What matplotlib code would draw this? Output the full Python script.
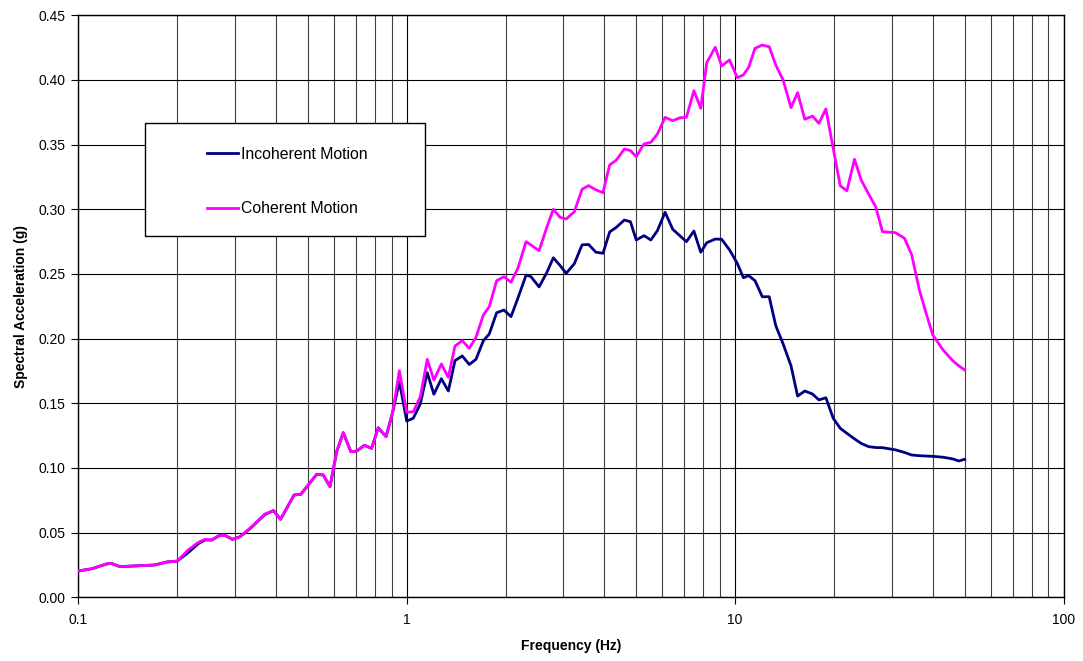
import matplotlib
matplotlib.use("Agg")
import matplotlib.pyplot as plt
from matplotlib.patches import Rectangle
from matplotlib.ticker import FixedLocator, NullFormatter, FuncFormatter

plt.rcParams['font.family'] = ['Liberation Sans', 'DejaVu Sans']

freq = [0.1, 0.11, 0.122, 0.126, 0.134, 0.15, 0.171, 0.186, 0.2, 0.216, 0.232, 0.243,
        0.255, 0.267, 0.278, 0.295, 0.311, 0.333, 0.37, 0.393, 0.413, 0.454, 0.476,
        0.532, 0.557, 0.584, 0.612, 0.641, 0.676, 0.705, 0.743, 0.782, 0.819, 0.865,
        0.905, 0.95, 1.0, 1.047, 1.1, 1.155, 1.21, 1.275, 1.339, 1.403, 1.476, 1.551,
        1.625, 1.712, 1.784, 1.879, 1.978, 2.078, 2.18, 2.31, 2.39, 2.53, 2.67, 2.795,
        2.93, 3.06, 3.24, 3.42, 3.58, 3.77, 3.96, 4.15, 4.35, 4.6, 4.8, 5.0, 5.28,
        5.54, 5.8, 6.12, 6.46, 6.8, 7.11, 7.49, 7.86, 8.2, 8.7, 9.1, 9.62, 10.15,
        10.6, 11.0, 11.5, 12.1, 12.7, 13.3, 14.0, 14.8, 15.5, 16.3, 17.2, 18.0, 18.9,
        19.9, 20.9, 21.9, 23.1, 24.2, 25.5, 26.8, 28.1, 30.8, 32.8, 34.5, 36.4, 38.3,
        40.0, 43.0, 46.0, 48.0, 50.0]

coherent = [0.0203, 0.0221, 0.0258, 0.0262, 0.0237, 0.0243, 0.0250, 0.0273, 0.0280,
            0.0366, 0.0425, 0.0448, 0.0443, 0.0474, 0.0482, 0.0448, 0.0469, 0.0533,
            0.0644, 0.0670, 0.0603, 0.0791, 0.0796, 0.0951, 0.0946, 0.0855, 0.1126,
            0.1273, 0.1126, 0.1131, 0.1175, 0.1152, 0.1311, 0.1242, 0.1423, 0.1752,
            0.1430, 0.1435, 0.1550, 0.1840, 0.1680, 0.1804, 0.1700, 0.1943, 0.1984,
            0.1925, 0.2010, 0.2183, 0.2247, 0.2448, 0.2479, 0.2436, 0.2544, 0.2750,
            0.2724, 0.2680, 0.2860, 0.3000, 0.2938, 0.2925, 0.2982, 0.3155, 0.3183,
            0.3150, 0.3129, 0.3343, 0.3381, 0.3466, 0.3454, 0.3407, 0.3505, 0.3518,
            0.3582, 0.3711, 0.3685, 0.3708, 0.3711, 0.3917, 0.3781, 0.4134, 0.4253,
            0.4108, 0.4155, 0.4018, 0.4039, 0.4098, 0.4245, 0.4270, 0.4257, 0.4116,
            0.4000, 0.3786, 0.3902, 0.3696, 0.3721, 0.3665, 0.3776, 0.3470, 0.3182,
            0.3144, 0.3387, 0.3227, 0.3118, 0.3020, 0.2827, 0.2819, 0.2776, 0.2647,
            0.2376, 0.2183, 0.2028, 0.1912, 0.1829, 0.1790, 0.1758]

incoherent = [0.0203, 0.0221, 0.0258, 0.0262, 0.0237, 0.0243, 0.0250, 0.0273, 0.0280,
              0.0345, 0.0415, 0.0443, 0.0443, 0.0474, 0.0482, 0.0448, 0.0469, 0.0530,
              0.0640, 0.0670, 0.0603, 0.0791, 0.0796, 0.0951, 0.0946, 0.0855, 0.1126,
              0.1273, 0.1126, 0.1131, 0.1175, 0.1152, 0.1311, 0.1242, 0.1423, 0.1667,
              0.1363, 0.1384, 0.1495, 0.1737, 0.1570, 0.1690, 0.1595, 0.1830, 0.1866,
              0.1800, 0.1840, 0.1984, 0.2036, 0.2200, 0.2221, 0.2170, 0.2312, 0.2492,
              0.2479, 0.2400, 0.2510, 0.2625, 0.2566, 0.2505, 0.2580, 0.2725, 0.2728,
              0.2668, 0.2660, 0.2825, 0.2861, 0.2917, 0.2904, 0.2763, 0.2796, 0.2763,
              0.2835, 0.2977, 0.2845, 0.2794, 0.2750, 0.2832, 0.2668, 0.2742, 0.2770,
              0.2768, 0.2686, 0.2583, 0.2471, 0.2487, 0.2448, 0.2324, 0.2324, 0.2100,
              0.1960, 0.1790, 0.1556, 0.1595, 0.1572, 0.1526, 0.1543, 0.1384, 0.1307,
              0.1268, 0.1225, 0.1190, 0.1165, 0.1158, 0.1157, 0.1140, 0.1120, 0.1100,
              0.1095, 0.1092, 0.1090, 0.1083, 0.1070, 0.1054, 0.1067]

series_labels = ["Incoherent Motion", "Coherent Motion"]
x_ticks = [0.1, 1, 10, 100]
x_tick_labels = ["0.1", "1", "10", "100"]
y_ticks = [0.0, 0.05, 0.10, 0.15, 0.20, 0.25, 0.30, 0.35, 0.40, 0.45]

fig = plt.figure(figsize=(10.83, 6.61), dpi=100)
ax = fig.add_axes([78.3 / 1083, 1 - 597.3 / 661, (1063.5 - 78.3) / 1083, (597.3 - 15.3) / 661])

l1, = ax.plot(freq, incoherent, color='#000080', lw=2.0, label=series_labels[0], zorder=3)
l2, = ax.plot(freq, coherent, color='#FF00FF', lw=2.0, label=series_labels[1], zorder=3)

ax.set_xscale('log')
ax.set_xlim(0.1, 100)
ax.set_ylim(0, 0.45)
ax.set_xticks(x_ticks)
ax.set_xticklabels(x_tick_labels)
minors = [m * d for d in (0.1, 1, 10) for m in range(2, 10)]
ax.xaxis.set_minor_locator(FixedLocator(minors))
ax.xaxis.set_minor_formatter(NullFormatter())
ax.set_yticks(y_ticks)
ax.yaxis.set_major_formatter(FuncFormatter(lambda v, p: f"{v:.2f}"))

ax.grid(True, which='major', axis='both', color='black', lw=0.8)
ax.grid(True, which='minor', axis='x', color='#404040', lw=0.8)
ax.set_axisbelow(True)
for s in ax.spines.values():
    s.set_color('black')
    s.set_linewidth(1.0)

ax.tick_params(axis='both', which='major', direction='out', length=5, width=0.8,
               labelsize=10, colors='black', pad=4)
ax.tick_params(axis='x', which='major', pad=6)
ax.tick_params(axis='x', which='minor', length=0)

ax.set_xlabel("Frequency (Hz)", fontsize=10, fontweight='bold', labelpad=9)
ax.set_ylabel("Spectral Acceleration (g)", fontsize=10, fontweight='bold', labelpad=8)

# legend box
rect = Rectangle((145 / 1083, 1 - 236 / 661), 280 / 1083, 113 / 661,
                 transform=fig.transFigure, facecolor='white', edgecolor='black',
                 lw=1.0, zorder=4)
fig.add_artist(rect)
leg = fig.legend(handles=[l1, l2], loc='upper left',
                 bbox_to_anchor=(199 / 1083, 1 - 139 / 661), frameon=False,
                 fontsize=11.4, handlelength=1.96, handletextpad=0.19,
                 labelspacing=2.5, borderpad=0)
leg.set_zorder(5)

fig.savefig("out.png", dpi=100)
